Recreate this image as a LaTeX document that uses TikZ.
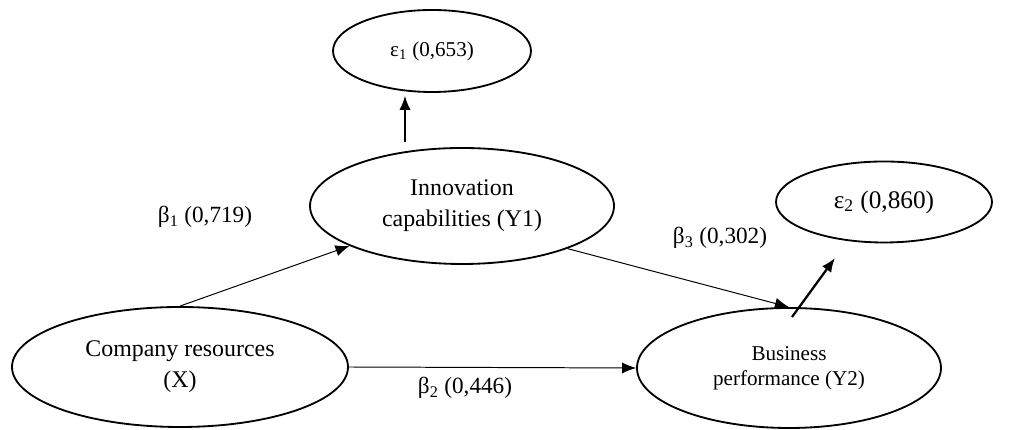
\documentclass[tikz,border=0pt]{standalone}
\usepackage{fontspec}
\setmainfont{Liberation Serif}
\usetikzlibrary{arrows.meta,shapes.geometric,positioning}
\tikzstyle{latent}=[ellipse, draw, line width=1.3pt, inner sep=0pt,
                    align=center, font=\fontsize{17}{22}\selectfont]
\tikzstyle{link}  =[-{Latex[length=10pt,width=8pt]}, line width=0.7pt]
\tikzstyle{wlink} =[-{Latex[length=10pt,width=8pt]}, line width=1.6pt]
\tikzstyle{coef}  =[inner sep=0pt, font=\fontsize{16.5}{20}\selectfont]

\begin{document}
\begin{tikzpicture}
    \useasboundingbox (0,0) rectangle (25.275,10.75);

    % latent variables
    \node[latent, minimum width=4.95cm, minimum height=2.05cm,
          font=\fontsize{15}{18}\selectfont] (e1) at (10.8,9.475)
          {ε\textsubscript{1} (0,653)};
    \node[latent, minimum width=7.6cm, minimum height=2.9cm] (inno)
          at (11.55,5.6) {Innovation\\capabilities (Y1)};
    \node[latent, minimum width=5.4cm, minimum height=2.025cm,
          font=\fontsize{18}{22}\selectfont] (e2) at (22.1,5.7)
          {ε\textsubscript{2} (0,860)};
    \node[latent, minimum width=8.4cm, minimum height=3cm] (comp)
          at (4.5,1.575) {Company resources\\(X)};
    \node[latent, minimum width=7.6cm, minimum height=3cm,
          font=\fontsize{15}{18}\selectfont] (bus) at (19.725,1.55)
          {Business\\performance (Y2)};

    % coefficients
    \node[coef] (b1) at (5.125,5.325) {β\textsubscript{1} (0,719)};
    \node[coef] (b2) at (11.625,1.05) {β\textsubscript{2} (0,446)};
    \node[coef] (b3) at (18.0,4.8) {β\textsubscript{3} (0,302)};

    \coordinate (e1foot) at (10.125,7.2);
    \coordinate (e2foot) at (19.8,2.825);
    \coordinate (e2tip) at (20.875,4.3);

    \draw[link] (comp.north) -- (inno);
    \draw[link] (comp.east) -- (bus.west);
    \draw[link] (inno.-22) -- (bus.north);
    \draw[wlink, shorten >=2pt] (e1foot) -- (e1foot |- e1.south);
    \draw[wlink] (e2foot) -- (e2tip);
\end{tikzpicture}
\end{document}
